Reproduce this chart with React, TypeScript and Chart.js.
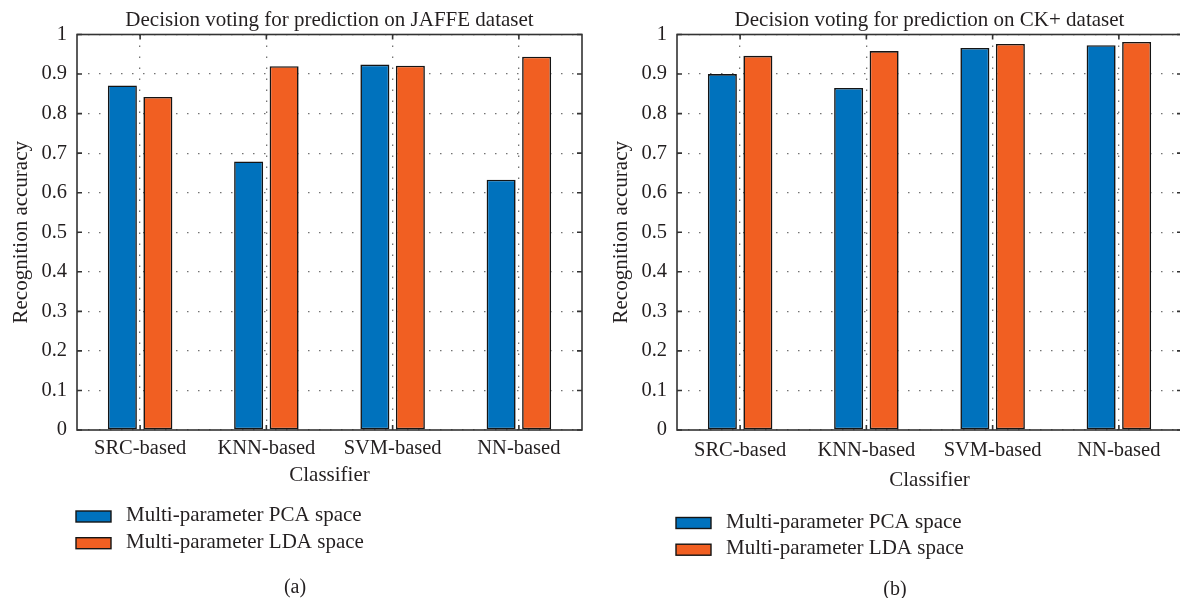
import React, { useEffect, useRef } from "react";
import { Chart, registerables } from "chart.js";

Chart.register(...registerables);

// Classifiers on the x axis
const classifiers = ["SRC-based", "KNN-based", "SVM-based", "NN-based"];
const seriesNames = ["Multi-parameter PCA space", "Multi-parameter LDA space"];

// Recognition accuracy, JAFFE dataset
const jaffePca = [0.871, 0.679, 0.924, 0.633];
const jaffeLda = [0.842, 0.92, 0.921, 0.944];

// Recognition accuracy, CK+ dataset
const ckPca = [0.9, 0.865, 0.966, 0.973];
const ckLda = [0.946, 0.958, 0.976, 0.981];

const FONT = "'Liberation Serif', 'Times New Roman', serif";
const INK = "#231f20";
const AXIS = "#333333";
const BLUE = "#0072BD";
const ORANGE = "#F15F22";
const EDGE = "#141414";

type DecorOpts = {
  title: string;
  caption: string;
  titleY: number;
  xTitleY: number;
  yTitleX: number;
  legendY: number;
  captionX: number;
  captionY: number;
};

// Box, inward tick marks, titles, legend and caption drawn around the plot
const panelDecor = {
  id: "panelDecor",
  afterDatasetsDraw(chart: any, _args: any, opts: DecorOpts) {
    const { ctx, chartArea: a, scales } = chart;
    const xs = scales.x;
    const ys = scales.y;
    ctx.save();

    ctx.strokeStyle = AXIS;
    ctx.lineWidth = 1.6;
    ctx.strokeRect(a.left, a.top, a.right - a.left, a.bottom - a.top);

    ctx.beginPath();
    ys.ticks.forEach((_t: any, i: number) => {
      const py = ys.getPixelForTick(i);
      ctx.moveTo(a.left, py);
      ctx.lineTo(a.left + 5, py);
      ctx.moveTo(a.right, py);
      ctx.lineTo(a.right - 5, py);
    });
    xs.ticks.forEach((_t: any, i: number) => {
      const px = xs.getPixelForTick(i);
      ctx.moveTo(px, a.bottom);
      ctx.lineTo(px, a.bottom - 5);
      ctx.moveTo(px, a.top);
      ctx.lineTo(px, a.top + 5);
    });
    ctx.stroke();

    ctx.fillStyle = INK;
    ctx.textAlign = "center";
    ctx.textBaseline = "middle";
    ctx.font = `21px ${FONT}`;
    const cx = (a.left + a.right) / 2;
    ctx.fillText(opts.title, cx, opts.titleY);
    ctx.fillText("Classifier", cx, opts.xTitleY);

    ctx.save();
    ctx.translate(opts.yTitleX, (a.top + a.bottom) / 2);
    ctx.rotate(-Math.PI / 2);
    ctx.fillText("Recognition accuracy", 0, 0);
    ctx.restore();

    chart.data.datasets.forEach((ds: any, i: number) => {
      const cy = opts.legendY + i * 26.7;
      const sx = a.left - 1;
      ctx.fillStyle = ds.backgroundColor;
      ctx.fillRect(sx, cy - 5.5, 35, 11);
      ctx.strokeStyle = EDGE;
      ctx.lineWidth = 1.4;
      ctx.strokeRect(sx, cy - 5.5, 35, 11);
      ctx.fillStyle = INK;
      ctx.textAlign = "left";
      ctx.fillText(ds.label, a.left + 49, cy - 1);
    });

    ctx.textAlign = "center";
    ctx.font = `20px ${FONT}`;
    ctx.fillText(opts.caption, opts.captionX, opts.captionY);

    ctx.restore();
  },
};

type PanelProps = {
  pca: number[];
  lda: number[];
  decor: DecorOpts;
  tickPad: number;
};

function Panel({ pca, lda, decor, tickPad }: PanelProps) {
  const ref = useRef<HTMLCanvasElement | null>(null);

  useEffect(() => {
    if (!ref.current) return;
    const gridColor = "rgba(40,40,40,0.65)";
    const barStyle = {
      borderColor: EDGE,
      borderWidth: 1.6,
      borderSkipped: false,
      categoryPercentage: 0.5624,
      barPercentage: 0.817,
    };
    const chart = new Chart(ref.current, {
      type: "bar",
      data: {
        labels: classifiers,
        datasets: [
          { label: seriesNames[0], data: pca, backgroundColor: BLUE, ...barStyle },
          { label: seriesNames[1], data: lda, backgroundColor: ORANGE, ...barStyle },
        ],
      },
      options: {
        responsive: false,
        animation: false,
        layout: { padding: { top: 34.5, right: 18, bottom: 0, left: 0 } },
        plugins: {
          legend: { display: false },
          title: { display: false },
          tooltip: { enabled: false },
          panelDecor: decor,
        } as any,
        scales: {
          x: {
            grid: { offset: false, color: gridColor, lineWidth: 1.3, drawTicks: false },
            border: { display: false, dash: [1.5, 9.5] },
            ticks: { padding: tickPad, color: INK, font: { family: FONT, size: 20.5 } },
            afterFit: (s: any) => {
              s.height = 168;
            },
          },
          y: {
            min: 0,
            max: 1,
            grid: { color: gridColor, lineWidth: 1.3, drawTicks: false },
            border: { display: false, dash: [1.5, 9.5] },
            ticks: {
              stepSize: 0.1,
              padding: 10,
              color: INK,
              font: { family: FONT, size: 20.5 },
              callback: (v: any) => String(Number(Number(v).toFixed(1))),
            },
            afterFit: (s: any) => {
              s.width = 77;
            },
          },
        },
      },
      plugins: [panelDecor],
    });
    return () => chart.destroy();
  }, [pca, lda, decor, tickPad]);

  return <canvas ref={ref} width={600} height={598} style={{ display: "block" }} />;
}

const jaffeDecor: DecorOpts = {
  title: "Decision voting for prediction on JAFFE dataset",
  caption: "(a)",
  titleY: 20,
  xTitleY: 475,
  yTitleX: 21,
  legendY: 516.5,
  captionX: 295,
  captionY: 588,
};

const ckDecor: DecorOpts = {
  title: "Decision voting for prediction on CK+ dataset",
  caption: "(b)",
  titleY: 20,
  xTitleY: 480,
  yTitleX: 21,
  legendY: 523,
  captionX: 295,
  captionY: 590,
};

export default function App() {
  return (
    <div
      style={{
        position: "absolute",
        left: 0,
        top: 0,
        width: 1180,
        height: 598,
        overflow: "hidden",
        background: "#ffffff",
      }}
    >
      <div style={{ position: "absolute", left: 0, top: 0 }}>
        <Panel pca={jaffePca} lda={jaffeLda} decor={jaffeDecor} tickPad={6} />
      </div>
      <div style={{ position: "absolute", left: 600, top: 0 }}>
        <Panel pca={ckPca} lda={ckLda} decor={ckDecor} tickPad={8} />
      </div>
    </div>
  );
}
